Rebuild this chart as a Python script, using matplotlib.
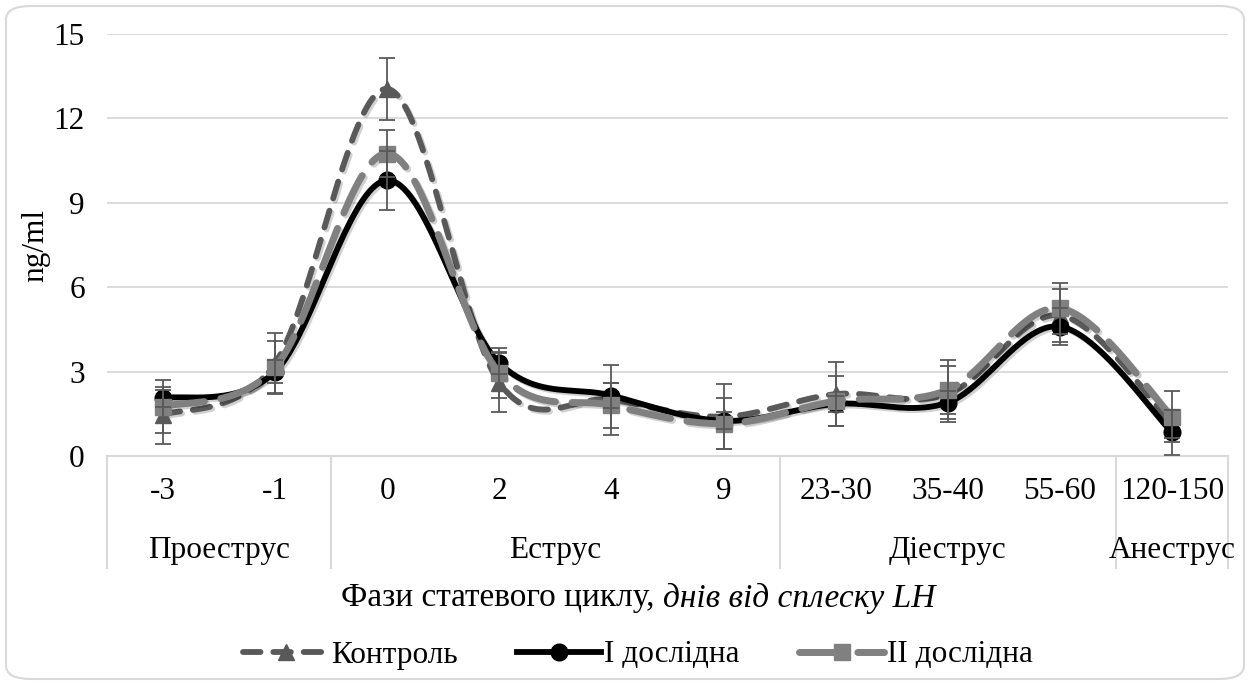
import numpy as np
import matplotlib
matplotlib.use("Agg")
from matplotlib import pyplot as plt
from matplotlib.lines import Line2D
from matplotlib.patches import FancyBboxPatch
import matplotlib.patheffects as pe

plt.rcParams['font.family'] = ['Liberation Serif', 'DejaVu Serif']

days = ['-3', '-1', '0', '2', '4', '9', '23-30', '35-40', '55-60', '120-150']
phases = ['Проеструс', 'Еструс', 'Діеструс', 'Анеструс']
phase_sizes = [2, 4, 3, 1]

control = [1.45, 3.3, 13.05, 2.6, 2.0, 1.4, 2.2, 2.2, 5.0, 1.15]
control_err = [1.02, 1.07, 1.1, 1.05, 1.25, 1.15, 1.13, 1.0, 0.95, 0.5]
group_1 = [2.05, 3.0, 9.8, 3.3, 2.15, 1.25, 1.85, 1.9, 4.6, 0.85]
group_1_err = [0.3, 0.4, 1.05, 0.4, 0.45, 0.3, 0.3, 0.4, 0.65, 0.8]
group_2 = [1.75, 3.15, 10.75, 2.95, 1.8, 1.15, 1.95, 2.35, 5.25, 1.4]
group_2_err = [0.95, 0.95, 0.85, 0.9, 0.8, 0.9, 0.9, 1.05, 0.9, 0.9]

FS = 22.5


def smooth(x, y, n=40):
    # Catmull-Rom style bezier through every point, like spreadsheet "smoothed line"
    x = np.asarray(x, float)
    y = np.asarray(y, float)
    px = np.concatenate([[x[0]], x, [x[-1]]])
    py = np.concatenate([[y[0]], y, [y[-1]]])
    xs, ys = [], []
    t = np.linspace(0, 1, n)
    for i in range(1, len(px) - 2):
        p0 = np.array([px[i], py[i]])
        p3 = np.array([px[i + 1], py[i + 1]])
        p1 = p0 + (p3 - np.array([px[i - 1], py[i - 1]])) / 6
        p2 = p3 - (np.array([px[i + 2], py[i + 2]]) - p0) / 6
        b = ((1 - t) ** 3)[:, None] * p0 + (3 * (1 - t) ** 2 * t)[:, None] * p1 \
            + (3 * (1 - t) * t ** 2)[:, None] * p2 + (t ** 3)[:, None] * p3
        xs.append(b[:, 0])
        ys.append(b[:, 1])
    return np.concatenate(xs), np.concatenate(ys)


fig = plt.figure(figsize=(12.5, 6.84), dpi=100)
ax = fig.add_axes([107 / 1250, 1 - 456 / 684, (1228 - 107) / 1250, (456 - 34) / 684])

fig.patches.append(FancyBboxPatch((6 / 1250, 5 / 684), 1238 / 1250, 673 / 684,
                                  boxstyle="round,pad=0,rounding_size=0.02",
                                  transform=fig.transFigure, fc='white',
                                  ec='#d9d9d9', lw=1.5, zorder=-10))

x = np.arange(len(days))
shadow = [pe.SimpleLineShadow(offset=(1.5, -1.5), shadow_color='k', alpha=0.18), pe.Normal()]

series = [
    (control, control_err, '#595959', '^', dict(dashes=(3.0, 2.2)), 4.2, 'Контроль'),
    (group_1, group_1_err, '#000000', 'o', dict(linestyle='-'), 4.2, 'І дослідна'),
    (group_2, group_2_err, '#808080', 's', dict(dashes=(6.0, 2.4)), 5.0, 'ІІ дослідна'),
]

handles = []
for i, (vals, err, col, mk, style, lw, name) in enumerate(series):
    sx, sy = smooth(x, vals)
    ax.plot(sx, sy, color=col, lw=lw, solid_capstyle='round', dash_capstyle='round',
            path_effects=shadow, zorder=3 + i, **style)
    ax.plot(x, vals, linestyle='none', marker=mk, ms=12, color=col, zorder=3 + i)
    ax.errorbar(x, vals, yerr=err, fmt='none', ecolor='#595959', elinewidth=1.3,
                capsize=5.5, capthick=1.3, zorder=8)
    handles.append(Line2D([], [], color=col, lw=lw, marker=mk, ms=12,
                          dash_capstyle='round', **style))

ax.set_xlim(-0.5, len(days) - 0.5)
ax.set_ylim(0, 15)
ax.set_yticks(np.arange(0, 16, 3))
ax.tick_params(axis='y', length=0, labelsize=FS, pad=16)
ax.set_xticks([])
ax.grid(axis='y', color='#d9d9d9', lw=1.3)
ax.set_axisbelow(True)
for s in ['top', 'right', 'left']:
    ax.spines[s].set_visible(False)
ax.spines['bottom'].set_color('#d9d9d9')
ax.spines['bottom'].set_linewidth(1.5)

ax.set_ylabel('ng/ml', fontsize=FS)
ax.yaxis.set_label_coords(-0.051, 0.5)

# category axis: days on top row, phases below, separated by vertical rules
tr = ax.get_xaxis_transform()
for xi, d in zip(x, days):
    ax.text(xi, -0.085, d, transform=tr, ha='center', va='center', fontsize=FS)

edges = np.concatenate([[0], np.cumsum(phase_sizes)]) - 0.5
for e in edges:
    ax.plot([e, e], [0, -0.265], transform=tr, color='#d9d9d9', lw=1.5, clip_on=False)
for name, a, b in zip(phases, edges[:-1], edges[1:]):
    ax.text((a + b) / 2, -0.225, name, transform=tr, ha='center', va='center', fontsize=FS)

# axis title with italic tail
fig.canvas.draw()
r = fig.canvas.get_renderer()
t1 = fig.text(0, 1 - 598 / 684, 'Фази статевого циклу, ', fontsize=24, va='center')
t2 = fig.text(0, 1 - 598 / 684, 'днів від сплеску LH', fontsize=24, va='center', style='italic')
w1 = t1.get_window_extent(r).width
w2 = t2.get_window_extent(r).width
left = 638 - (w1 + w2) / 2
t1.set_x(left / 1250)
t2.set_x((left + w1) / 1250)

fig.legend(handles, [s[6] for s in series], loc='center', bbox_to_anchor=(638 / 1250, 1 - 655 / 684),
           ncol=3, frameon=False, fontsize=FS, handlelength=2.7, handletextpad=0.1,
           columnspacing=1.9)

fig.savefig('out.png', dpi=100)
